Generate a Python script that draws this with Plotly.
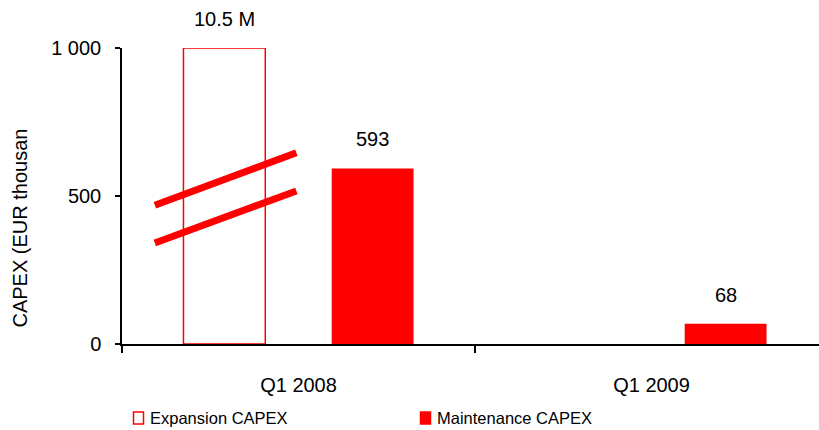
import numpy as np
import plotly.graph_objects as go

# Quarterly CAPEX, EUR thousand
quarters = ["Q1 2008", "Q1 2009"]
expansion = [10500, 0]
maintenance = [593, 68]
value_labels_exp = ["10.5 M", None]
value_labels_mnt = ["593", "68"]
y_ticks = [0, 500, 1000]
y_tick_text = ["0", "500", "1 000"]

AXIS_CAP = 1000          # broken axis: taller bars are cut at this height
RED = "#ff0000"
FONT = "Liberation Sans, Arial, sans-serif"
BARGAP, GROUPGAP = 0.16, 0.448

xpos = np.arange(len(quarters))
slot = (1 - BARGAP) / 2
exp_x = xpos - slot / 2
mnt_x = xpos + slot / 2

fig = go.Figure()
fig.add_trace(go.Bar(
    x=xpos, y=np.minimum(expansion, AXIS_CAP), name="Expansion CAPEX",
    marker=dict(color="white",
                line=dict(color=RED, width=[1.5 if v > 0 else 0 for v in expansion])),
    cliponaxis=False, showlegend=False,
))
fig.add_trace(go.Bar(
    x=xpos, y=np.minimum(maintenance, AXIS_CAP), name="Maintenance CAPEX",
    marker=dict(color=RED, line=dict(width=0)),
    cliponaxis=False, showlegend=False,
))

# value labels above bars
for xs, vals, labels in ((exp_x, expansion, value_labels_exp),
                         (mnt_x, maintenance, value_labels_mnt)):
    for x, v, t in zip(xs, vals, labels):
        if t is None:
            continue
        fig.add_annotation(x=x, y=min(v, AXIS_CAP), text=t, showarrow=False,
                           yanchor="middle", yshift=29,
                           font=dict(family=FONT, size=20, color="black"))

# axis-break marks across the truncated bar
bx = exp_x[0]
for y0, y1 in ((469, 646), (341, 517)):
    fig.add_shape(type="line", xref="x", yref="y",
                  x0=bx - 0.197, x1=bx + 0.204, y0=y0, y1=y1,
                  line=dict(color=RED, width=7), layer="above")

# y-axis title
fig.add_annotation(xref="paper", yref="paper", x=-0.147, y=0.392,
                   xanchor="center", yanchor="middle",
                   text="CAPEX (EUR thousan", textangle=-90, showarrow=False,
                   font=dict(family=FONT, size=20, color="black"))

# legend
legend_items = [("Expansion CAPEX", "white", 133.5), ("Maintenance CAPEX", RED, 420.5)]
W, L, T, H = 697, 122, 48, 296
for name, fill, px in legend_items:
    fig.add_shape(type="rect", xref="paper", yref="paper",
                  x0=(px - L) / W, x1=(px + 10 - L) / W,
                  y0=(T + H - 412) / H, y1=(T + H - 424) / H,
                  fillcolor=fill, line=dict(color=RED, width=1.5))
    fig.add_annotation(xref="paper", yref="paper", x=(px + 14 - L) / W,
                       y=(T + H - 418) / H, xanchor="left", yanchor="middle",
                       text=name, showarrow=False,
                       font=dict(family=FONT, size=16.5, color="black"))

fig.update_layout(
    width=819, height=430,
    margin=dict(l=L, r=0, t=T, b=430 - T - H),
    paper_bgcolor="white", plot_bgcolor="white",
    barmode="group", bargap=BARGAP, bargroupgap=GROUPGAP,
    font=dict(family=FONT, size=20, color="black"),
    showlegend=False,
)
fig.update_xaxes(
    range=[-0.5, -0.5 + 697 / 353], tickvals=xpos, ticktext=quarters,
    ticks="", showgrid=False, zeroline=False,
    showline=True, linecolor="black", linewidth=2,
    ticklabelstandoff=22,
    minor=dict(tick0=0.5, dtick=1, ticks="outside", ticklen=7,
               tickwidth=2, tickcolor="black", showgrid=False),
)
fig.update_yaxes(
    range=[0, AXIS_CAP], tickvals=y_ticks, ticktext=y_tick_text,
    ticks="outside", ticklen=5, tickwidth=1.5, tickcolor="black",
    showgrid=False, zeroline=False,
    showline=True, linecolor="black", linewidth=1.5,
    ticklabelstandoff=10,
)

fig.write_html("out.html")
